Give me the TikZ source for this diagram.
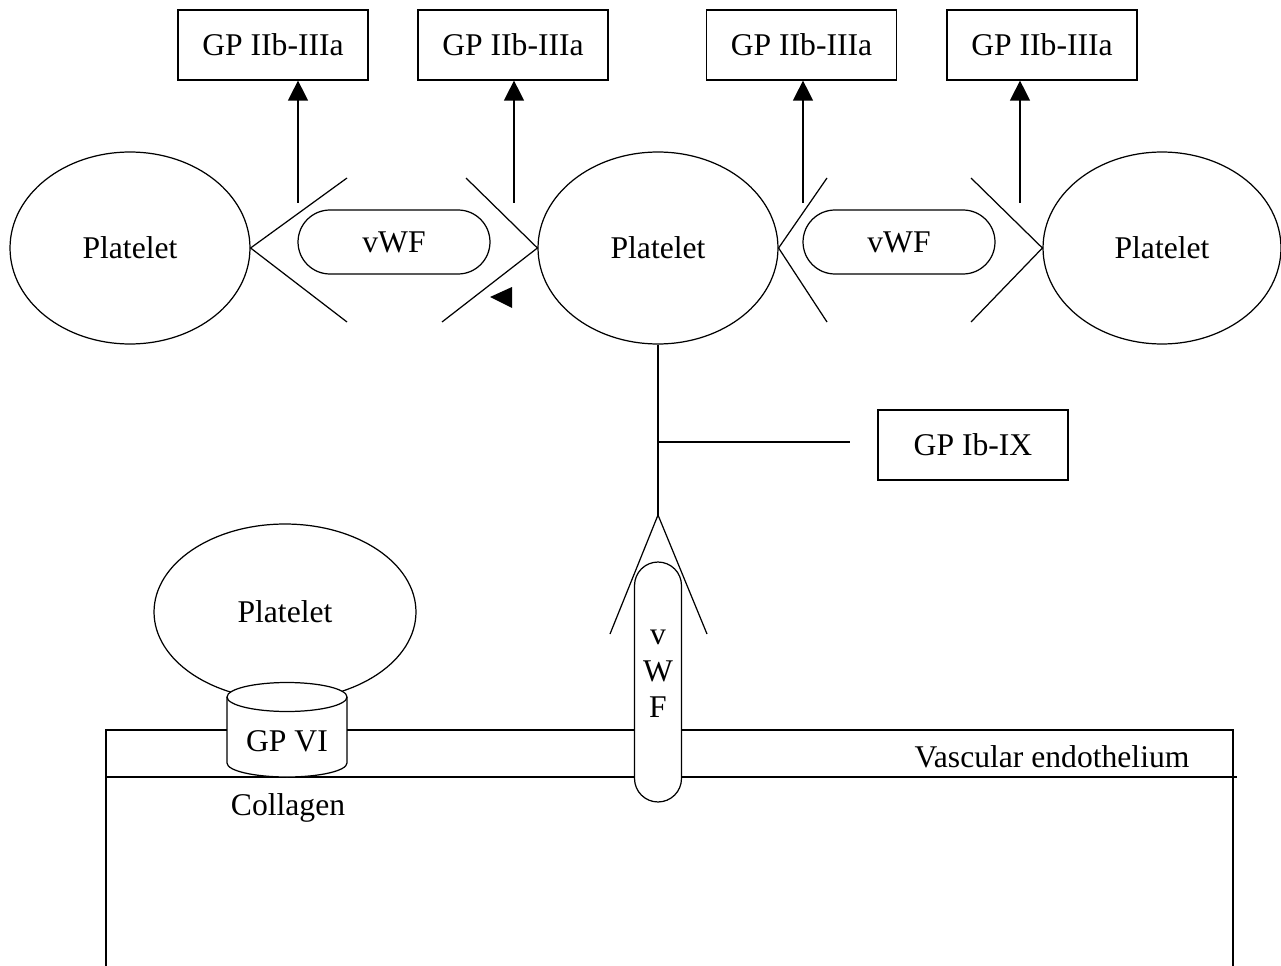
\documentclass[tikz,border=0pt]{standalone}
\usepackage{fontspec}
\setmainfont{Liberation Serif}
\usetikzlibrary{arrows.meta,shapes.geometric,shapes.misc,calc}
\begin{document}
\begin{tikzpicture}[x=0.02cm,y=-0.02cm, line width=0.7pt,
  every node/.style={font=\fontsize{18}{21}\selectfont},
  gpbox/.style={draw, minimum width=3.8cm, minimum height=1.4cm, inner sep=0pt},
  cell/.style={draw, ellipse, minimum width=4.8cm, minimum height=3.84cm, inner sep=0pt},
  pill/.style={draw, rounded rectangle, fill=white, minimum width=3.84cm, minimum height=1.28cm, inner sep=0pt},
  arr/.style={-{Triangle[length=0.4cm,width=0.4cm]}},
]
\useasboundingbox (0,0) rectangle (1281,966);

% receptor boxes
\node[gpbox] (b1) at (273,45) {GP IIb-IIIa};
\node[gpbox] (b2) at (513,45) {GP IIb-IIIa};
\node[gpbox] (b3) at (801.5,45) {GP IIb-IIIa};
\node[gpbox] (b4) at (1042,45) {GP IIb-IIIa};

% platelets top row
\node[cell] (p1) at (130,248) {Platelet};
\node[cell] (p2) at (658,248) {Platelet};
\node[cell, minimum width=4.76cm] (p3) at (1162,248) {Platelet};

% vWF pills
\node[pill] (v1) at (394,242) {vWF};
\node[pill] (v2) at (899,242) {vWF};

% arrows
\coordinate (a1) at (298,203);
\coordinate (a2) at (514,203);
\coordinate (a3) at (803,203);
\coordinate (a4) at (1020,203);
\draw[arr] (a1) -- (a1 |- b1.south);
\draw[arr] (a2) -- (a2 |- b2.south);
\draw[arr] (a3) -- (a3 |- b3.south);
\draw[arr] (a4) -- (a4 |- b4.south);

% chevrons
\draw (347,178) -- (p1.east) -- (347,322);
\draw (466,178) -- (p2.west) -- (442,322);
\draw (827,178) -- (p2.east) -- (827,322);
\draw (971,178) -- (p3.west) -- (971,322);

% small marker triangle
\fill (490,297) -- (512,287) -- (512,308) -- cycle;

% GP Ib-IX
\node[gpbox] (ib) at (973,445) {GP Ib-IX};
\coordinate (fork) at (658,515);
\coordinate (j) at (658,442);
\coordinate (je) at ($(ib.west)+(-27,-3)$);
\draw (p2.south) -- (fork);
\draw (j) -- (je);
\draw (610,634) -- (fork) -- (707,634);

% endothelium
\draw (106,966) -- (106,730) -- (1233,730) -- (1233,966);
\draw (106,777) -- (1237,777);
\node (ve) at (1052,757) {Vascular endothelium};
\node (col) at (288,808) {Collagen};

% bottom platelet and GP VI cylinder
\node[cell, minimum width=5.24cm, minimum height=3.52cm] (p4) at (285,612) {Platelet};
\filldraw[fill=white] (227,763) arc[start angle=180,end angle=360,x radius=1.2cm,y radius=0.28cm]
  -- (347,697) arc[start angle=0,end angle=180,x radius=1.2cm,y radius=0.29cm] -- cycle;
\draw (227,697) arc[start angle=180,end angle=360,x radius=1.2cm,y radius=0.29cm];
\node (gp6) at (287,741) {GP VI};

% vertical vWF
\node[draw, fill=white, rectangle, rounded corners=0.47cm, minimum width=0.94cm, minimum height=4.8cm, inner sep=0pt] (v3) at (658,682) {};
\node[align=center, font=\fontsize{18}{20.7}\selectfont] (v3t) at (658,674) {v\\W\\F};
\end{tikzpicture}
\end{document}
